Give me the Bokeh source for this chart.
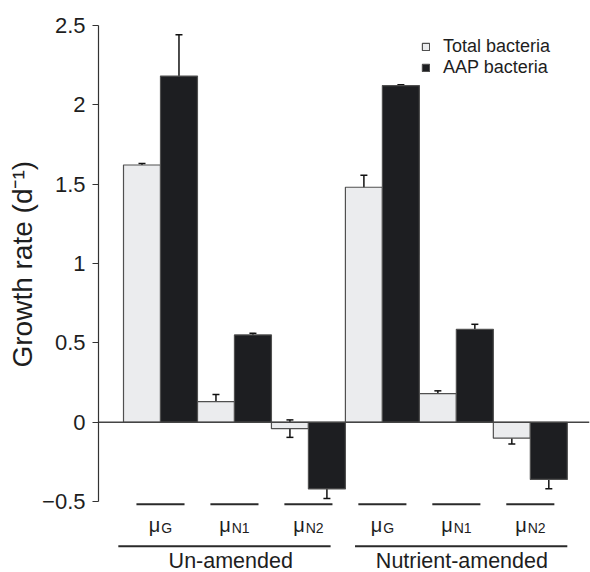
from bokeh.plotting import figure
from bokeh.models import (Range1d, FixedTicker, Span, Whisker, TeeHead, ColumnDataSource,
                          Legend, LegendItem, Title)
from bokeh.core.properties import value
from bokeh.embed import file_html
from bokeh.resources import INLINE

# ---------------- data ----------------
treatments = ["Un-amended", "Nutrient-amended"]
rate_symbol = "μ"
rate_subscripts = ["G", "N1", "N2"]
series_names = ["Total bacteria", "AAP bacteria"]

total_values = [1.62, 0.13, -0.04, 1.48, 0.18, -0.10]
total_errors = [0.01, 0.045, 0.055, 0.075, 0.018, 0.037]
aap_values = [2.18, 0.55, -0.42, 2.12, 0.585, -0.36]
aap_errors = [0.26, 0.01, 0.06, 0.006, 0.032, 0.058]

y_ticks = [-0.5, 0, 0.5, 1, 1.5, 2, 2.5]
y_tick_labels = ["\u22120.5", "0", "0.5", "1", "1.5", "2", "2.5"]
y_title = "Growth rate (d\u207b\u00b9)"

# ---------------- layout ----------------
FONT = "Liberation Sans"
TEXT = "#1e1e1e"
LIGHT = "#ebecee"
DARK = "#1d1e21"
EDGE = "#505050"

n_groups = len(treatments)
n_cat = len(rate_subscripts)
pair_idx = list(range(n_groups * n_cat))
x_total = [2 * i + 0.5 for i in pair_idx]
x_aap = [2 * i + 1.5 for i in pair_idx]
pair_center = [2 * i + 1.0 for i in pair_idx]

p = figure(width=590, height=572, output_backend="svg", toolbar_location=None,
           x_range=Range1d(-0.676, 12.6), y_range=Range1d(-0.946, 2.593),
           min_border_left=98, min_border_right=1, min_border_top=10, min_border_bottom=0)
p.outline_line_color = None
p.xgrid.visible = False
p.ygrid.visible = False
p.xaxis.visible = False
p.background_fill_color = "white"

ax = p.yaxis[0]
ax.bounds = (-0.5, 2.5)
ax.ticker = FixedTicker(ticks=y_ticks, minor_ticks=[])
ax.major_label_overrides = {t: l for t, l in zip(y_ticks, y_tick_labels)}
ax.major_tick_out = 6
ax.major_tick_in = 0
ax.minor_tick_line_color = None
ax.axis_line_color = "#333333"
ax.major_tick_line_color = "#333333"
ax.axis_line_width = 1.2
ax.major_label_text_font = FONT
ax.major_label_text_font_size = "22px"
ax.major_label_text_color = TEXT
ax.major_label_standoff = 7

p.add_layout(Title(text=y_title, align="left", offset=205, standoff=4,
                   text_font=FONT, text_font_size="28px", text_font_style="normal",
                   text_color=TEXT), "left")

src_t = ColumnDataSource(dict(x=x_total, top=total_values,
                              up=[v + e for v, e in zip(total_values, total_errors)],
                              lo=[v - e for v, e in zip(total_values, total_errors)]))
src_a = ColumnDataSource(dict(x=x_aap, top=aap_values,
                              up=[v + e for v, e in zip(aap_values, aap_errors)],
                              lo=[v - e for v, e in zip(aap_values, aap_errors)]))

r_t = p.vbar(x="x", top="top", bottom=0, width=1.0, source=src_t,
             fill_color=LIGHT, line_color=EDGE, line_width=1.2)
r_a = p.vbar(x="x", top="top", bottom=0, width=1.0, source=src_a,
             fill_color=DARK, line_color=EDGE, line_width=1.2)

for src in (src_t, src_a):
    w = Whisker(base="x", upper="up", lower="lo", source=src, dimension="height",
                line_color="#111111", line_width=1.5,
                upper_head=TeeHead(size=7, line_color="#111111", line_width=1.5),
                lower_head=TeeHead(size=7, line_color="#111111", line_width=1.5))
    p.add_layout(w)

p.add_layout(Span(location=0, dimension="width", line_color="#444444", line_width=1.5))

# legend
legend = Legend(items=[LegendItem(label=series_names[0], renderers=[r_t]),
                       LegendItem(label=series_names[1], renderers=[r_a])],
                location=(323, 494), orientation="vertical",
                glyph_width=9, glyph_height=9, label_height=18, label_standoff=13,
                spacing=-5, padding=2, margin=0,
                border_line_color=None, background_fill_alpha=0,
                label_text_font=FONT, label_text_font_size="18px",
                label_text_color=TEXT)
p.add_layout(legend)

# category markers below the axis
p.segment(x0=[c - 0.65 for c in pair_center], x1=[c + 0.65 for c in pair_center],
          y0=-0.516, y1=-0.516, line_color="#2a2a2a", line_width=2)

mu_w = 11.5
sub_char_w = {"G": 10.9, "N1": 17.9, "N2": 17.9}
mu_x_off, sub_x_off, sub_txt = [], [], []
for i in pair_idx:
    s = rate_subscripts[i % n_cat]
    total_w = mu_w + 1 + sub_char_w[s]
    mu_x_off.append(-total_w / 2)
    sub_x_off.append(-total_w / 2 + mu_w + 1)
    sub_txt.append(s)

p.text(x=pair_center, y=-0.644, text=[rate_symbol] * len(pair_idx), x_offset=mu_x_off,
       text_font=value(FONT), text_font_size="20px", text_align="left",
       text_baseline="alphabetic", text_color=TEXT)
p.text(x=pair_center, y=-0.663, text=sub_txt, x_offset=sub_x_off,
       text_font=value(FONT), text_font_size="14px", text_align="left",
       text_baseline="alphabetic", text_color=TEXT)

# treatment groups
grp_x0 = [g * 2 * n_cat - 0.14 for g in range(n_groups)]
grp_x1 = [g * 2 * n_cat + 5.6 for g in range(n_groups)]
grp_x0[1] += 0.4
grp_x1[1] += 0.4
p.segment(x0=grp_x0, x1=grp_x1, y0=-0.78, y1=-0.78, line_color="#2a2a2a", line_width=2)
p.text(x=[g * 2 * n_cat + 2.9 + 0.25 * g for g in range(n_groups)], y=-0.874, text=treatments,
       text_font=value(FONT), text_font_size="21.5px", text_align="center",
       text_baseline="alphabetic", text_color=TEXT)

open("out.html", "w").write(file_html(p, INLINE))
